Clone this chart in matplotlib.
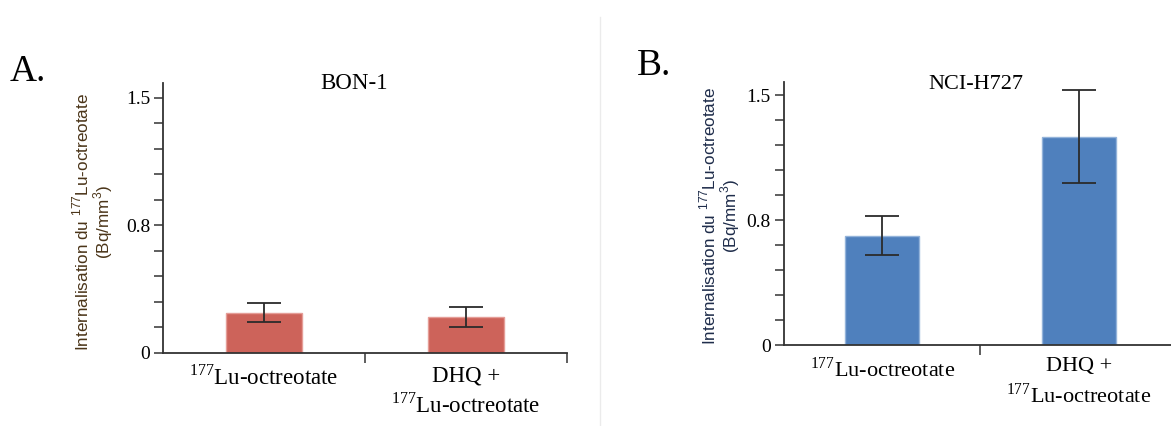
import matplotlib
matplotlib.use('Agg')
import matplotlib.pyplot as plt

plt.rcParams['font.family'] = 'Liberation Serif'
plt.rcParams['mathtext.fontset'] = 'custom'
plt.rcParams['mathtext.rm'] = 'Liberation Serif'
plt.rcParams['mathtext.sf'] = 'Liberation Sans'

# data
groupes = ['$^{177}$Lu-octreotate', 'DHQ +\n$^{177}$Lu-octreotate']
bon1 = [0.235, 0.21]
bon1Err = [0.055, 0.06]
nci = [0.656, 1.25]
nciErr = [0.118, 0.278]
yTicks = [0, 0.75, 1.5]
yTickLabels = ['0', '0.8', '1.5']

W, H = 1171, 426
fig = plt.figure(figsize=(W / 100, H / 100), dpi=100)

ylabel = 'Internalisation du $^{\\mathsf{177}}$Lu-octreotate\n(Bq/mm$^{\\mathsf{3}}$)'


def panneau(rect, valeurs, erreurs, couleur, bord, ytop, xfont):
    ax = fig.add_axes(rect)
    x = list(range(len(valeurs)))
    ax.bar(x, valeurs, width=0.375, color=couleur, edgecolor=bord, linewidth=1, zorder=2)
    ax.errorbar(x, valeurs, yerr=erreurs, fmt='none', ecolor='#2b2b2b',
                elinewidth=1.3, capsize=12, capthick=1.3, zorder=3)
    ax.set_xlim(-0.5, 1.5)
    ax.set_ylim(0, ytop)
    for s in ['top', 'right']:
        ax.spines[s].set_visible(False)
    for s in ['left', 'bottom']:
        ax.spines[s].set_color('#333333')
        ax.spines[s].set_linewidth(1.3)
    ax.set_yticks([i * 0.15 for i in range(11)])
    ax.set_yticklabels([yTickLabels[yTicks.index(round(i * 0.15, 2))]
                        if round(i * 0.15, 2) in yTicks else '' for i in range(11)])
    ax.tick_params(axis='y', direction='out', length=6.5, width=1.1, color='#333333',
                   labelsize=14, pad=3)
    ax.set_xticks(x)
    ax.set_xticklabels(groupes, fontsize=xfont, linespacing=1.35)
    ax.tick_params(axis='x', length=0, pad=9)
    ax.set_xticks([0.5, 1.5], minor=True)
    ax.tick_params(axis='x', which='minor', direction='out', length=7, width=1.1,
                   color='#333333')
    return ax


panneau([163.3 / W, 1 - 352.7 / H, 403.4 / W, 269.7 / H], bon1, bon1Err,
        '#cd635a', '#e59d97', 1.586, 16.5)
panneau([783.8 / W, 1 - 345 / H, 393.4 / W, 263.3 / H], nci, nciErr,
        '#4f80bd', '#93b3da', 1.58, 16)

fig.text(354.5 / W, 1 - 89 / H, 'BON-1', ha='center', va='baseline', fontsize=16.5)
fig.text(975.5 / W, 1 - 89 / H, 'NCI-H727', ha='center', va='baseline', fontsize=16)

fig.text(93 / W, 1 - 222 / H, ylabel, rotation=90, ha='center', va='center',
         family='Liberation Sans', fontsize=12.3, color='#4a3418',
         multialignment='center', linespacing=1.0)
fig.text(720 / W, 1 - 216 / H, ylabel, rotation=90, ha='center', va='center',
         family='Liberation Sans', fontsize=12.3, color='#1e2c4a',
         multialignment='center', linespacing=1.0)

fig.text(10 / W, 1 - 81 / H, 'A.', fontsize=27, va='baseline', ha='left')
fig.text(637 / W, 1 - 75 / H, 'B.', fontsize=27, va='baseline', ha='left')

fig.add_artist(plt.Line2D([599.5 / W, 599.5 / W], [0, 1 - 17 / H],
                          transform=fig.transFigure, color='#ebebeb', linewidth=1))

fig.savefig('out.png', dpi=100)
